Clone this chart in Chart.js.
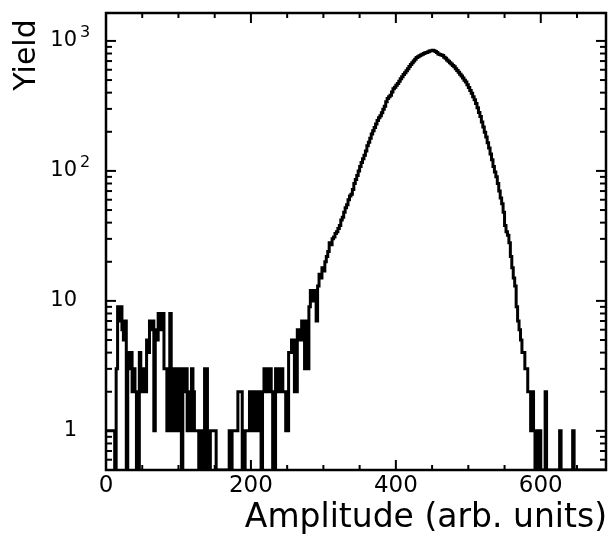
<!DOCTYPE html>
<html>
<head>
<meta charset="utf-8">
<script src="https://cdn.jsdelivr.net/npm/chart.js@4.4.1/dist/chart.umd.min.js"></script>
<style>
	html, body { margin: 0; padding: 0; background: #fff; }
</style>
</head>
<body>
<canvas id="graph_yield" width="608" height="535"></canvas>
<script>
// histogram bins (arb. units)
const binStart = 0;
const binWidth = 2;

// counts per bin (0 = empty bin)
const counts = [
	1, 1, 1, 1, 1, 1, 1, 0, 3, 9,                       // 0 - 18
	7, 9, 6, 5, 7, 0, 4, 3, 4, 2,                       // 20 - 38
	3, 2, 0, 0, 4, 3, 2, 3, 2, 5,                       // 40 - 58
	4, 7, 6, 7, 1, 6, 5, 8, 8, 6,                       // 60 - 78
	8, 3, 3, 1, 1, 8, 3, 1, 3, 1,                       // 80 - 98
	1, 3, 3, 0, 3, 2, 3, 1, 2, 1,                       // 100 - 118
	3, 2, 1, 1, 1, 0, 0, 1, 0, 3,                       // 120 - 138
	3, 0, 0, 1, 1, 1, 1, 0, 0, 0,                       // 140 - 158
	0, 0, 0, 0, 0, 0, 1, 0, 1, 1,                       // 160 - 178
	1, 1, 2, 2, 2, 0, 0, 1, 1, 1,                       // 180 - 198
	2, 1, 2, 2, 1, 1, 2, 1, 0, 2,                       // 200 - 218
	3, 2, 2, 3, 3, 2, 0, 0, 3, 2,                       // 220 - 238
	2, 3, 3, 2, 2, 1, 1, 4, 4, 5,                       // 240 - 258
	5, 2, 2, 6, 5, 5, 7, 6, 3, 7,                       // 260 - 278
	3, 9, 12, 10, 11, 12, 7, 13, 16, 15,                // 280 - 298
	18, 17, 20, 22, 24, 28, 27, 30, 31, 33,             // 300 - 318
	34, 36, 38, 42, 44, 48, 52, 55, 60, 64,             // 320 - 338
	66, 72, 80, 86, 92, 100, 108, 116, 124, 132,        // 340 - 358
	142, 156, 166, 178, 192, 204, 216, 230, 244, 256,   // 360 - 378
	266, 280, 298, 314, 340, 360, 372, 382, 405, 428,   // 380 - 398
	440, 456, 470, 490, 512, 530, 552, 570, 590, 612,   // 400 - 418
	635, 660, 680, 700, 722, 745, 755, 768, 778, 790,   // 420 - 438
	800, 812, 815, 826, 835, 842, 848, 840, 830, 815,   // 440 - 458
	795, 785, 780, 772, 750, 735, 712, 698, 680, 665,   // 460 - 478
	648, 632, 612, 592, 575, 555, 538, 518, 498, 482,   // 480 - 498
	460, 438, 415, 395, 372, 352, 330, 306, 282, 262,   // 500 - 518
	238, 218, 198, 182, 165, 150, 135, 122, 108, 98,    // 520 - 538
	90, 80, 70, 62, 56, 48, 38, 34, 32, 28,             // 540 - 558
	22, 18, 15, 13, 9, 7, 6, 5, 4, 4,                   // 560 - 578
	3, 3, 2, 2, 1, 2, 1, 0, 0, 1,                       // 580 - 598
	1, 0, 0, 0, 2, 0, 0, 0, 0, 0,                       // 600 - 618
	0, 0, 0, 0, 1, 0, 0, 0, 0, 0,                       // 620 - 638
	0, 0, 0, 1, 0, 0, 0, 0, 0, 0,                       // 640 - 658
	0, 0, 0, 0, 0, 0, 0, 0, 0, 0,                       // 660 - 678
	0, 0, 0, 0, 0                                       // 680 - 688
];

// axes
const xMin = 0, xMax = 690;
const yMin = 0.5, yMax = 1640;
const xLabelTicks = [0, 200, 400, 600];
const yLabelTicks = [1, 10, 100, 1000];
const yLabelBase = ['1', '10', '10', '10'];
const yLabelExp = ['', '', '2', '3'];
const xTitle = 'Amplitude (arb. units)';
const yTitle = 'Yield';

// step points, empty bins drop to the bottom of the frame
const points = counts.map(function(c, i) {
	return { x: binStart + i * binWidth, y: c > 0 ? c : yMin };
});
points.push({ x: binStart + counts.length * binWidth, y: points[points.length - 1].y });

function drawLine(ctx, x1, y1, x2, y2) {
	ctx.beginPath();
	ctx.moveTo(x1, y1);
	ctx.lineTo(x2, y2);
	ctx.stroke();
}

// frame, inner ticks on all four sides, y labels with exponents, axis titles
const frameTicks = {
	id: 'frameTicks',
	afterDraw(chart) {
		const ctx = chart.ctx;
		const a = chart.chartArea;
		const x = chart.scales.x;
		const y = chart.scales.y;
		ctx.save();
		ctx.strokeStyle = '#000';
		ctx.fillStyle = '#000';

		ctx.lineWidth = 2;
		for (let v = xMin; v <= xMax; v += 50) {
			const px = x.getPixelForValue(v);
			const len = v % 200 === 0 ? 10 : 5;
			drawLine(ctx, px, a.bottom, px, a.bottom - len);
			drawLine(ctx, px, a.top, px, a.top + len);
		}
		for (let d = 0.1; d <= 1000; d *= 10) {
			for (let m = 1; m <= 9; m++) {
				const v = Math.round(m * d * 10) / 10;
				if (v < yMin || v > yMax) continue;
				const py = y.getPixelForValue(v);
				const len = m === 1 ? 10 : 6;
				drawLine(ctx, a.left, py, a.left + len, py);
				drawLine(ctx, a.right, py, a.right - len, py);
			}
		}

		ctx.lineWidth = 2.5;
		ctx.strokeRect(a.left, a.top, a.right - a.left, a.bottom - a.top);

		// y labels: "10" + raised exponent
		ctx.textBaseline = 'middle';
		yLabelTicks.forEach(function(v, i) {
			const py = y.getPixelForValue(v);
			ctx.font = '21px "DejaVu Sans"';
			ctx.textAlign = 'right';
			ctx.fillText(yLabelBase[i], 77, py);
			if (yLabelExp[i]) {
				ctx.font = '16px "DejaVu Sans"';
				ctx.textAlign = 'left';
				ctx.fillText(yLabelExp[i], 80, py - 8);
			}
		});

		// axis titles
		ctx.textBaseline = 'alphabetic';
		ctx.font = '33px "DejaVu Sans"';
		ctx.textAlign = 'right';
		ctx.fillText(xTitle, 607, 527);

		ctx.save();
		ctx.translate(35, 55);
		ctx.rotate(-Math.PI / 2);
		ctx.font = '30px "DejaVu Sans"';
		ctx.textAlign = 'center';
		ctx.fillText(yTitle, 0, 0);
		ctx.restore();

		ctx.restore();
	}
};

const ctx = document.getElementById('graph_yield').getContext('2d');
const yieldChart = new Chart(ctx, {
	type: 'line',
	data: {
		datasets: [{
			label: 'Yield',
			data: points,
			stepped: 'after',
			borderColor: '#000',
			borderWidth: 3,
			pointRadius: 0,
			fill: false
		}]
	},
	options: {
		responsive: false,
		animation: false,
		devicePixelRatio: 1,
		layout: {
			padding: { top: 13, right: 2, left: 0, bottom: 0 }
		},
		plugins: {
			legend: { display: false },
			tooltip: { enabled: false }
		},
		scales: {
			x: {
				type: 'linear',
				min: xMin,
				max: xMax,
				afterBuildTicks: function(scale) {
					scale.ticks = xLabelTicks.map(function(v) { return { value: v }; });
				},
				afterFit: function(scale) {
					scale.height = 65;
				},
				grid: { display: false, drawTicks: false },
				border: { display: false },
				ticks: {
					color: '#000',
					padding: 2,
					maxRotation: 0,
					font: { family: 'DejaVu Sans', size: 23 }
				}
			},
			y: {
				type: 'logarithmic',
				min: yMin,
				max: yMax,
				afterFit: function(scale) {
					scale.width = 106;
				},
				grid: { display: false, drawTicks: false },
				border: { display: false },
				ticks: { display: false }
			}
		}
	},
	plugins: [frameTicks]
});
</script>
</body>
</html>
